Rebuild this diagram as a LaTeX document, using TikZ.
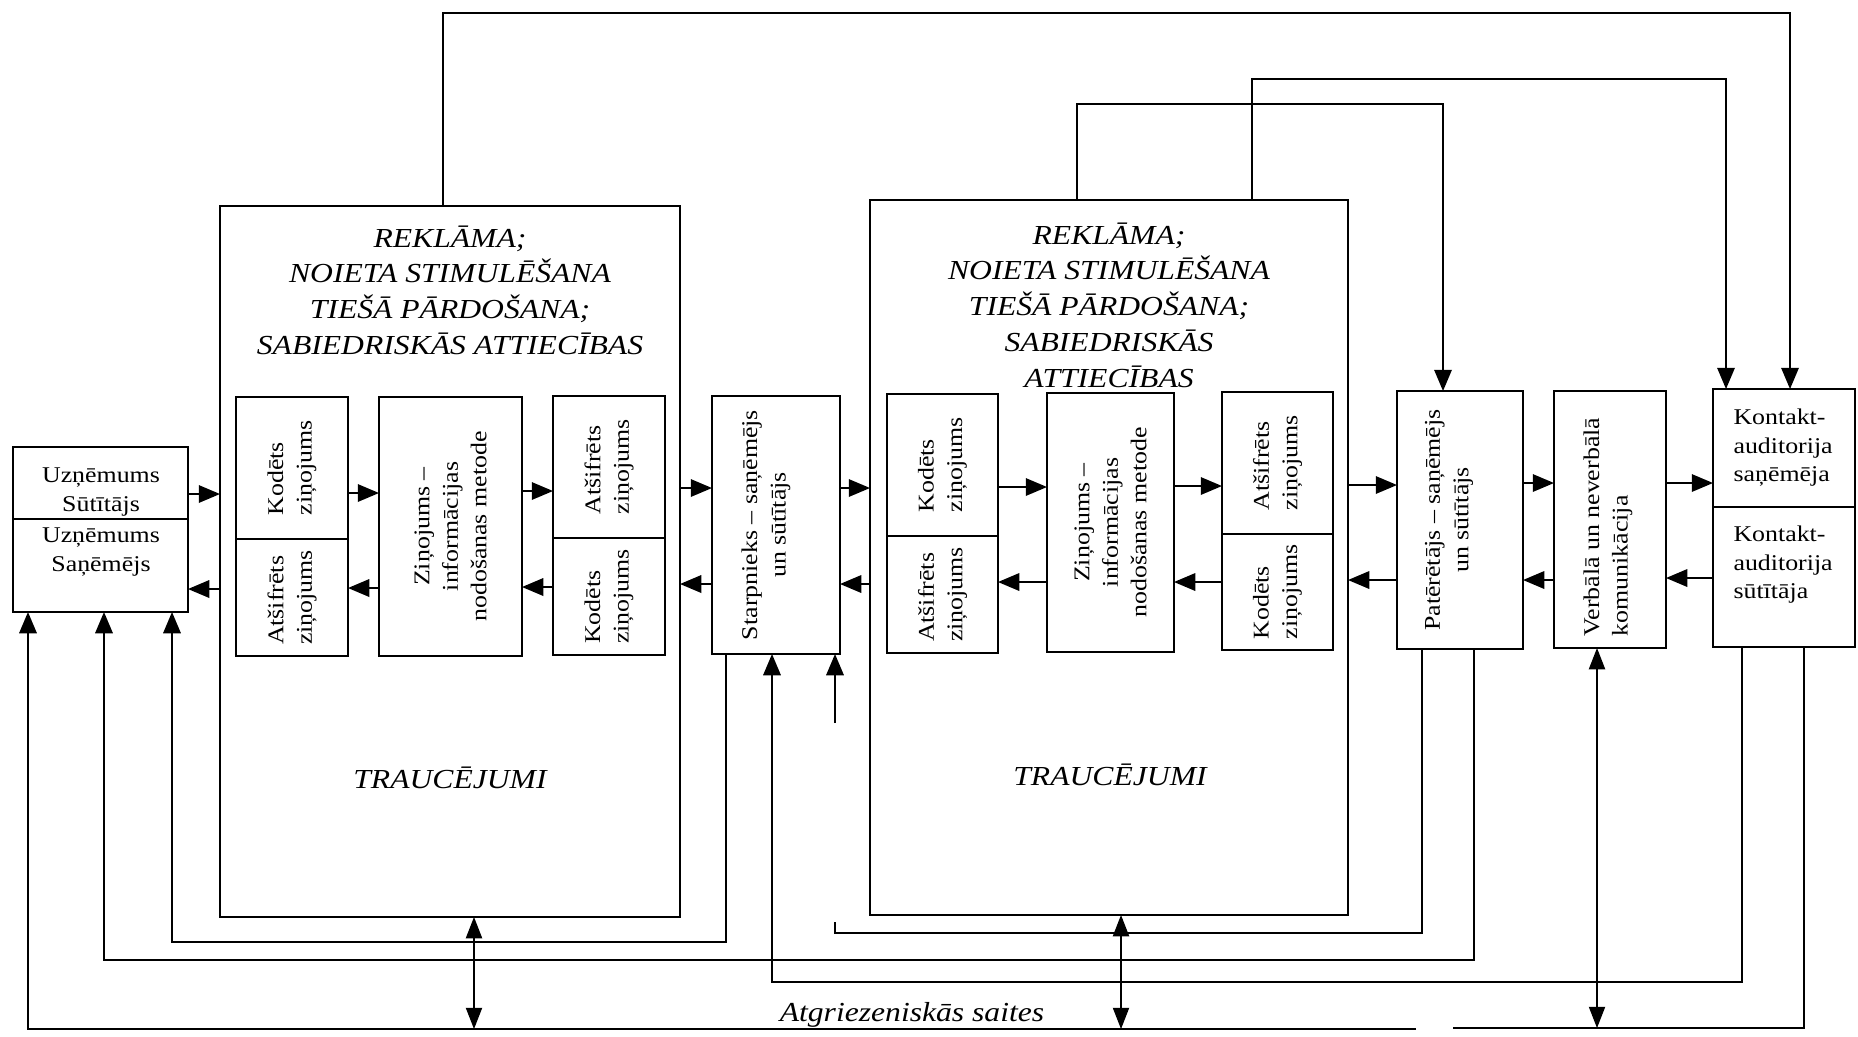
\documentclass[tikz,border=0pt]{standalone}
\usepackage{fontspec}
\setmainfont{Liberation Serif}[FakeStretch=1.15]
\usetikzlibrary{arrows.meta}
\newcommand\mkbox[5]{\node[bx, minimum width={(#4-#2)*0.4pt}, minimum height={(#5-#3)*0.4pt}] (#1) at ({(#2+#4)/2},{(#3+#5)/2}) {};}
\begin{document}
\begin{tikzpicture}[x=0.4pt,y=-0.4pt,
  bx/.style={draw, line width=0.8pt, inner sep=0pt, outer sep=0pt},
  arr/.style={-{Triangle[length=8.5pt,width=7pt]}, line width=0.7pt},
  dbl/.style={{Triangle[length=8.5pt,width=6.5pt]}-{Triangle[length=8.5pt,width=6.5pt]}, line width=0.5pt},
  wire/.style={line width=0.7pt},
  lbl/.style={font=\fontsize{9}{11.4}\selectfont, align=center, inner sep=0pt},
  lbll/.style={lbl, align=left},
  rl/.style={lbl, rotate=90},
  rll/.style={lbll, rotate=90},
  head/.style={font=\fontsize{11}{14.3}\selectfont\itshape, align=center, inner sep=0pt}]
\fill[white] (0,0) rectangle (1858,1036);
\useasboundingbox (0,0) rectangle (1858,1036);

% left boxes
\mkbox{uz1}{13}{447}{188}{519}
\mkbox{uz2}{13}{519}{188}{612}
\node[lbl] (tuz1) at (101,492) {Uzņēmums\\Sūtītājs};
\node[lbl] (tuz2) at (101,552) {Uzņēmums\\Saņēmējs};

% big box 1
\mkbox{B1}{220}{206}{680}{917}
\node[head] (h1) at (450,290) {REKLĀMA;\\NOIETA STIMULĒŠANA\\TIEŠĀ PĀRDOŠANA;\\SABIEDRISKĀS ATTIECĪBAS};
\node[head, anchor=base] (tr1) at (450,788) {TRAUCĒJUMI};
\mkbox{k1a}{236}{397}{348}{539}
\mkbox{a1a}{236}{539}{348}{656}
\mkbox{z1}{379}{397}{522}{656}
\mkbox{a1b}{553}{396}{665}{538}
\mkbox{k1b}{553}{538}{665}{655}
\node[rll] (tk1a) at (k1a.center) {Kodēts\\ziņojums};
\node[rll] (ta1a) at (a1a.center) {Atšifrēts\\ziņojums};
\node[rl] (tz1) at (z1.center) {Ziņojums –\\informācijas\\nodošanas metode};
\node[rll] (ta1b) at (a1b.center) {Atšifrēts\\ziņojums};
\node[rll] (tk1b) at (k1b.center) {Kodēts\\ziņojums};

% Starpnieks
\mkbox{St}{712}{396}{840}{654}
\node[rl] (tSt) at (766,525) {Starpnieks – saņēmējs\\un sūtītājs};

% big box 2
\mkbox{B2}{870}{200}{1348}{915}
\node[head] (h2) at (1109,305) {REKLĀMA;\\NOIETA STIMULĒŠANA\\TIEŠĀ PĀRDOŠANA;\\SABIEDRISKĀS\\ATTIECĪBAS};
\node[head, anchor=base] (tr2) at (1110,785) {TRAUCĒJUMI};
\mkbox{k2a}{887}{394}{998}{536}
\mkbox{a2a}{887}{536}{998}{653}
\mkbox{z2}{1047}{393}{1174}{652}
\mkbox{a2b}{1222}{392}{1333}{534}
\mkbox{k2b}{1222}{534}{1333}{650}
\node[rll] (tk2a) at (k2a.center) {Kodēts\\ziņojums};
\node[rll] (ta2a) at (a2a.center) {Atšifrēts\\ziņojums};
\node[rl] (tz2) at (z2.center) {Ziņojums –\\informācijas\\nodošanas metode};
\node[rll] (ta2b) at (a2b.center) {Atšifrēts\\ziņojums};
\node[rll] (tk2b) at (k2b.center) {Kodēts\\ziņojums};

% Pateretajs, Verbala, Kontakt
\mkbox{Pa}{1397}{391}{1523}{649}
\node[rl] (tPa) at (1449,520) {Patērētājs – saņēmējs\\un sūtītājs};
\mkbox{Ve}{1554}{391}{1666}{648}
\node[rll] (tVe) at (1608,527) {Verbālā un neverbālā\\komunikācija};
\mkbox{Ko1}{1713}{389}{1855}{507}
\mkbox{Ko2}{1713}{507}{1855}{647}
\node[lbll, anchor=west] (tKo1) at (1733,448) {Kontakt-\\auditorija\\saņēmēja};
\node[lbll, anchor=west] (tKo2) at (1733,565) {Kontakt-\\auditorija\\sūtītāja};

% upper row arrows
\draw[arr] (uz1.east |- 0,494) -- (B1.west |- 0,494);
\draw[arr] (k1a.east |- 0,493) -- (z1.west |- 0,493);
\draw[arr] (z1.east |- 0,491) -- (a1b.west |- 0,491);
\draw[arr] (B1.east |- 0,488) -- (St.west |- 0,488);
\draw[arr] (St.east |- 0,488) -- (B2.west |- 0,488);
\draw[arr] (k2a.east |- 0,487) -- (z2.west |- 0,487);
\draw[arr] (z2.east |- 0,486) -- (a2b.west |- 0,486);
\draw[arr] (B2.east |- 0,485) -- (Pa.west |- 0,485);
\draw[arr] (Pa.east |- 0,483) -- (Ve.west |- 0,483);
\draw[arr] (Ve.east |- 0,483) -- (Ko1.west |- 0,483);
% lower row arrows
\draw[arr] (B1.west |- 0,589) -- (uz2.east |- 0,589);
\draw[arr] (z1.west |- 0,588) -- (a1a.east |- 0,588);
\draw[arr] (k1b.west |- 0,587) -- (z1.east |- 0,587);
\draw[arr] (St.west |- 0,584) -- (B1.east |- 0,584);
\draw[arr] (B2.west |- 0,584) -- (St.east |- 0,584);
\draw[arr] (z2.west |- 0,582) -- (a2a.east |- 0,582);
\draw[arr] (k2b.west |- 0,582) -- (z2.east |- 0,582);
\draw[arr] (Pa.west |- 0,580) -- (B2.east |- 0,580);
\draw[arr] (Ve.west |- 0,580) -- (Pa.east |- 0,580);
\draw[arr] (Ko2.west |- 0,578) -- (Ve.east |- 0,578);

% top connectors
\draw[arr] (B1.north -| 443,0) -- (443,13) -- (1790,13) -- (Ko1.north -| 1790,0);
\draw[arr] (B2.north -| 1252,0) -- (1252,79) -- (1726,79) -- (Ko1.north -| 1726,0);
\draw[arr] (B2.north -| 1077,0) -- (1077,104) -- (1443,104) -- (Pa.north -| 1443,0);

% feedback connectors
\draw[arr] (St.south -| 726,0) -- (726,942) -- (172,942) -- (uz2.south -| 172,0);
\draw[arr] (Pa.south -| 1474,0) -- (1474,960) -- (104,960) -- (uz2.south -| 104,0);
\draw[arr] (Ko2.south -| 1742,0) -- (1742,982) -- (772,982) -- (St.south -| 772,0);
\draw[wire] (Pa.south -| 1422,0) -- (1422,933) -- (835,933) -- (835,922);
\coordinate (dstub) at (835,723);
\draw[arr] (dstub) -- (St.south -| 835,0);
\draw[wire] (Ko2.south -| 1804,0) -- (1804,1028) -- (1453,1028);
\draw[arr] (1416,1029) -- (28,1029) -- (uz2.south -| 28,0);
\draw[dbl] (B1.south -| 474,0) -- (474,1029);
\draw[dbl] (B2.south -| 1121,0) -- (1121,1029);
\draw[dbl] (Ve.south -| 1597,0) -- (1597,1028);
\node[head, anchor=base] (fb) at (912,1021) {Atgriezeniskās saites};
\end{tikzpicture}
\end{document}
